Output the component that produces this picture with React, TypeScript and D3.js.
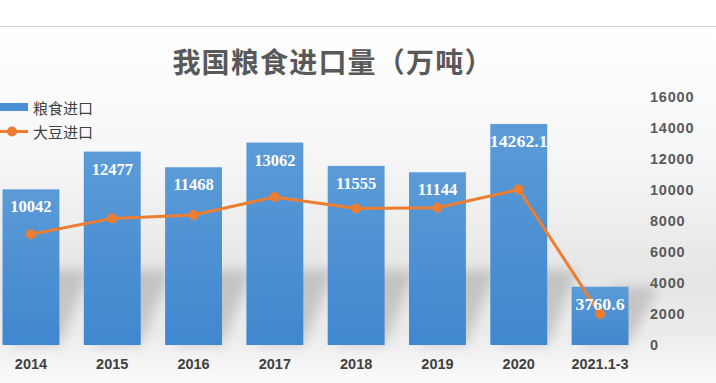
import React from "react";
import * as d3 from "d3";

const categories = ["2014", "2015", "2016", "2017", "2018", "2019", "2020", "2021.1-3"];
const grainValues = [10042, 12477, 11468, 13062, 11555, 11144, 14262.1, 3760.6];
const grainLabels = ["10042", "12477", "11468", "13062", "11555", "11144", "14262.1", "3760.6"];
const soyValues = [7140, 8169, 8391, 9553, 8803, 8851, 10033, 2000];
const yTicks = [0, 2000, 4000, 6000, 8000, 10000, 12000, 14000, 16000];

const W = 716;
const H = 383;

export default function App() {
  const x = d3.scaleBand<string>().domain(categories).range([-9.7, 640.7]).paddingInner(0.3).paddingOuter(0.15);
  const y = d3.scaleLinear().domain([0, 16000]).range([345, 97]);
  const bw = x.bandwidth();
  const cx = (c: string) => (x(c) as number) + bw / 2;
  const line = d3.line<number>().x((_, i) => cx(categories[i])).y((d) => y(d));

  return (
    <svg width={W} height={H} style={{ position: "absolute", left: 0, top: 0 }}>
      <defs>
        <linearGradient id="bg" x1="0" y1="0" x2="0" y2="1">
          <stop offset="0" stopColor="#ffffff" />
          <stop offset="0.35" stopColor="#f7f7f7" />
          <stop offset="0.7" stopColor="#e6e6e6" />
          <stop offset="0.86" stopColor="#ebebeb" />
          <stop offset="1" stopColor="#fbfbfb" />
        </linearGradient>
        <linearGradient id="bar" x1="0" y1="0" x2="0" y2="1">
          <stop offset="0" stopColor="#5b9bd7" />
          <stop offset="1" stopColor="#3f87cf" />
        </linearGradient>
        <filter id="blur" x="-50%" y="-50%" width="200%" height="200%">
          <feGaussianBlur stdDeviation="6" />
        </filter>
      </defs>
      <rect x={0} y={0} width={W} height={H} fill="#ffffff" />
      <rect x={0} y={26} width={W} height={H - 26} fill="url(#bg)" />
      <line x1={0} x2={W} y1={26.5} y2={26.5} stroke="#d4d4d4" strokeWidth={1} />

      <text x={333} y={61} textAnchor="middle" dominantBaseline="central" fontFamily="'Noto Sans CJK SC', sans-serif" fontWeight="bold" fontSize={28} letterSpacing={1.2} fill="#595959">
        我国粮食进口量（万吨）
      </text>

      {/* shadows */}
      <g filter="url(#blur)" fill="#000" opacity={0.15}>
        {categories.map((c, i) => {
          const x0 = x(c) as number;
          const x1 = x0 + bw;
          const b = y(0);
          const h = Math.min(75, y(0) - y(grainValues[i]));
          return <polygon key={c} points={`${x0 + 10},${b} ${x1},${b} ${x1 + 30},${b - h} ${x0 + 40},${b - h}`} />;
        })}
      </g>

      {/* bars */}
      {categories.map((c, i) => (
        <rect key={c} x={x(c)} y={y(grainValues[i])} width={bw} height={y(0) - y(grainValues[i])} fill="url(#bar)" />
      ))}

      {/* line */}
      <path d={line(soyValues) || ""} fill="none" stroke="#ed7d31" strokeWidth={3} strokeLinejoin="round" />
      {soyValues.map((v, i) => (
        <circle key={i} cx={cx(categories[i])} cy={y(v)} r={5} fill="#ed7d31" />
      ))}

      {/* bar labels */}
      {categories.map((c, i) => {
        const lbl = grainLabels[i];
        const condensed = lbl.includes(".");
        return (
          <text
            key={c}
            x={cx(c)}
            y={y(grainValues[i]) + 23}
            textAnchor="middle"
            fontFamily="'Liberation Serif', serif"
            fontWeight="bold"
            fontSize={16.5}
            fill="#ffffff"
            textLength={condensed ? (lbl.length === 7 ? 58 : 49) : undefined}
            lengthAdjust="spacingAndGlyphs"
          >
            {lbl}
          </text>
        );
      })}

      {/* right axis */}
      {yTicks.map((t) => (
        <text key={t} x={650} y={y(t)} dominantBaseline="central" fontFamily="'Liberation Sans', Arial, sans-serif" fontWeight="bold" fontSize={14.5} letterSpacing={0.8} fill="#595959">
          {t}
        </text>
      ))}

      {/* x axis labels */}
      {categories.map((c) => (
        <text key={c} x={cx(c)} y={364} textAnchor="middle" dominantBaseline="central" fontFamily="'Liberation Sans', Arial, sans-serif" fontWeight="bold" fontSize={14.5} fill="#404040">
          {c}
        </text>
      ))}

      {/* legend */}
      <rect x={0} y={103} width={28} height={8} fill="#4a8fd3" />
      <text x={33} y={107} dominantBaseline="central" fontFamily="'Noto Sans CJK SC', sans-serif" fontSize={15} fill="#404040">
        粮食进口
      </text>
      <line x1={0} x2={28} y1={131.5} y2={131.5} stroke="#ed7d31" strokeWidth={3} />
      <circle cx={12} cy={131.5} r={5} fill="#ed7d31" />
      <text x={33} y={131} dominantBaseline="central" fontFamily="'Noto Sans CJK SC', sans-serif" fontSize={15} fill="#404040">
        大豆进口
      </text>
    </svg>
  );
}
